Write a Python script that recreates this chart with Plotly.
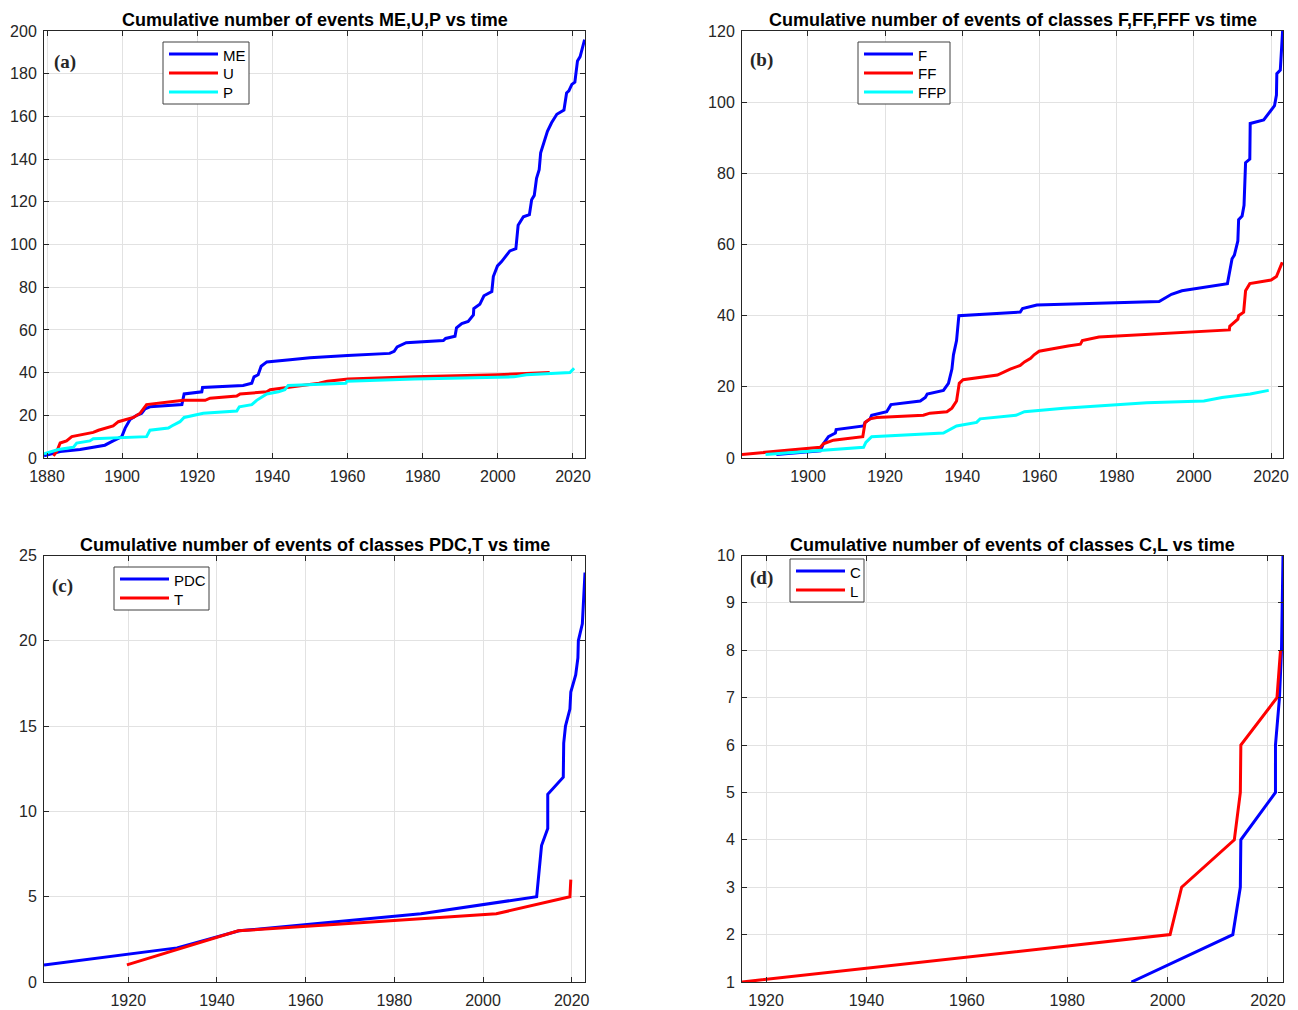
import plotly.graph_objects as go

# ---- (a) ME, U, P ----
me_year = [1879.2, 1883.5, 1888.8, 1892.0, 1895.4, 1897.6, 1899.9, 1900.8, 1902.1, 1903.9,
           1905.2, 1906.1, 1907.4, 1915.9, 1916.5, 1921.2, 1921.4, 1932.2, 1934.5, 1935.1,
           1936.2, 1937.0, 1938.5, 1944.7, 1950.0, 1960.0, 1971.2, 1972.4, 1973.2, 1975.6,
           1985.5, 1986.1, 1988.6, 1989.0, 1990.4, 1992.1, 1993.5, 1993.6, 1995.2, 1996.3,
           1998.4, 1998.8, 1999.9, 2001.0, 2003.2, 2004.8, 2005.4, 2006.8, 2008.4, 2009.0,
           2009.7, 2010.3, 2011.0, 2011.4, 2012.4, 2013.2, 2014.3, 2015.7, 2017.6, 2018.3,
           2018.9, 2019.7, 2020.5, 2021.0, 2021.2, 2021.9, 2023.1]
me_count = [1, 3, 4, 5, 6, 8, 10, 14, 18, 20,
            21, 23, 24, 25, 30, 31, 33, 34, 35, 38,
            39, 43, 45, 46, 47, 48, 49, 50, 52, 54,
            55, 56, 57, 61, 63, 64, 67, 70, 72, 76,
            78, 85, 90, 92, 97, 98, 109, 113, 114, 121,
            123, 131, 135, 143, 149, 153, 157, 161, 163, 171,
            172, 175, 176, 182, 186, 188, 196]

u_year = [1881.7, 1882.6, 1883.5, 1885.2, 1886.6, 1892.3, 1893.7, 1897.6, 1899.0, 1900.8,
          1903.0, 1904.8, 1906.5, 1916.3, 1922.1, 1923.4, 1930.5, 1931.4, 1938.5, 1939.4,
          1943.3, 1952.4, 1954.6, 1960.2, 1977.8, 2000.0, 2013.8]
u_count = [1, 3, 7, 8, 10, 12, 13, 15, 17, 18,
           19, 21, 25, 27, 27, 28, 29, 30, 31, 32,
           33, 35, 36, 37, 38, 39, 40]

p_year = [1879.2, 1883.0, 1887.0, 1887.9, 1891.4, 1892.3, 1906.5, 1907.4, 1912.3, 1913.2,
          1915.4, 1916.5, 1921.6, 1930.5, 1931.2, 1934.5, 1935.8, 1938.5, 1941.6, 1943.3,
          1944.2, 1959.5, 1959.9, 1977.8, 2004.3, 2007.6, 2019.2, 2020.3]
p_count = [2, 4, 5, 7, 8, 9, 10, 13, 14, 15,
           17, 19, 21, 22, 24, 25, 27, 30, 31, 32,
           34, 35, 36, 37, 38, 39, 40, 42]

# ---- (b) F, FF, FFP ----
f_year = [1891.8, 1903.2, 1904.0, 1905.3, 1907.1, 1907.3, 1914.4, 1914.8, 1916.1, 1916.5,
          1920.4, 1921.5, 1929.1, 1930.4, 1930.9, 1935.1, 1936.4, 1937.3, 1937.7, 1938.5,
          1939.1, 1947.2, 1955.0, 1955.6, 1959.3, 1991.0, 1994.2, 1996.9, 2008.7, 2009.9,
          2010.5, 2011.4, 2011.6, 2012.5, 2013.0, 2013.4, 2014.5, 2014.6, 2018.1, 2020.9,
          2021.4, 2021.5, 2022.4, 2023.0]
f_count = [1, 2, 4, 6, 7, 8, 9, 10, 11, 12,
           13, 15, 16, 17, 18, 19, 21, 25, 29, 33,
           40, 40.5, 41, 42, 43, 44, 46, 47, 49, 56,
           57, 61, 67, 68, 71, 83, 84, 94, 95, 99,
           102, 108, 109, 120]

ff_year = [1882.9, 1903.2, 1904.0, 1906.6, 1914.2, 1914.8, 1916.1, 1917.8, 1929.9, 1931.6,
           1936.0, 1937.3, 1938.5, 1939.2, 1940.2, 1947.2, 1949.1, 1952.4, 1955.0, 1956.1,
           1957.7, 1958.6, 1959.9, 1967.4, 1970.6, 1971.1, 1975.4, 2009.2, 2009.3, 2011.4,
           2011.6, 2012.9, 2013.4, 2014.5, 2020.0, 2021.4, 2022.9]
ff_count = [1, 3, 4, 5, 6, 10, 11, 11.4, 12, 12.6,
            13, 14, 16, 21, 22, 23, 23.3, 25, 26, 27,
            28, 29, 30, 31.5, 32, 33, 34, 36, 37, 39,
            40, 41, 47, 49, 50, 51, 55]

ffp_year = [1889.0, 1914.4, 1915.0, 1916.5, 1935.1, 1936.8, 1938.5, 1943.7, 1944.6, 1953.9,
            1956.1, 1966.3, 1987.8, 2002.6, 2007.3, 2014.6, 2019.4]
ffp_count = [1, 3, 4.4, 6, 7, 8, 9, 10, 11, 12,
             13, 14, 15.5, 16, 17, 18, 19]

# ---- (c) PDC, T ----
pdc_year = [1901.0, 1931.0, 1945.0, 1986.0, 2012.1, 2013.2, 2014.6, 2014.6, 2018.1, 2018.2,
            2018.6, 2019.6, 2019.8, 2020.9, 2021.4, 2021.5, 2022.4, 2022.6, 2023.0]
pdc_count = [1, 2, 3, 4, 5, 8, 9, 11, 12, 14,
             15, 16, 17, 18, 19, 20, 21, 22, 24]

t_year = [1919.7, 1944.8, 2003.0, 2019.6, 2019.8]
t_count = [1, 3, 4, 5, 6]

# ---- (d) C, L ----
c_year = [1992.8, 2013.0, 2014.5, 2014.6, 2021.5, 2021.5, 2022.3, 2022.7, 2022.85, 2023.0]
c_count = [1, 2, 3, 4, 5, 6, 7, 8, 9, 10]

l_year = [1915.2, 2000.5, 2002.8, 2013.3, 2014.5, 2014.6, 2021.8, 2022.5]
l_count = [1, 2, 3, 4, 5, 6, 7, 8]

BLUE, RED, CYAN = "#0000FF", "#FF0000", "#00FFFF"
W, H = 1298, 1010
SANS = "Liberation Sans, Arial, sans-serif"
SERIF = "Liberation Serif, Times New Roman, serif"
AXC = "#262626"
GRID = "#e2e2e2"


def px_x(p):
    return p / W


def px_y(p):
    return 1 - p / H


panels = [
    dict(title="Cumulative number of events ME,U,P vs time", label="(a)",
         xpx=(44, 585), ypx=(31, 458), xr=[1879.2, 2023.2], yr=[0, 200],
         xt=list(range(1880, 2021, 20)), yt=list(range(0, 201, 20)),
         series=[("ME", me_year, me_count, BLUE), ("U", u_year, u_count, RED),
                 ("P", p_year, p_count, CYAN)],
         legbox=(163, 42, 249, 104), rows=(54, 73, 92), labpos=(52, 62)),
    dict(title="Cumulative number of events of classes F,FF,FFF vs time", label="(b)",
         xpx=(742, 1283), ypx=(31, 458), xr=[1882.9, 2023.1], yr=[0, 120],
         xt=list(range(1900, 2021, 20)), yt=list(range(0, 121, 20)),
         series=[("F", f_year, f_count, BLUE), ("FF", ff_year, ff_count, RED),
                 ("FFP", ffp_year, ffp_count, CYAN)],
         legbox=(858, 42, 950, 104), rows=(54, 73, 92), labpos=(748, 60)),
    dict(title="Cumulative number of events of classes PDC,T vs time", label="(c)",
         xpx=(44, 585), ypx=(555.5, 982), xr=[1901, 2023], yr=[0, 25],
         xt=list(range(1920, 2021, 20)), yt=list(range(0, 26, 5)),
         series=[("PDC", pdc_year, pdc_count, BLUE), ("T", t_year, t_count, RED)],
         legbox=(114, 567, 209, 610), rows=(579, 598), labpos=(50, 586)),
    dict(title="Cumulative number of events of classes C,L vs time", label="(d)",
         xpx=(742, 1283), ypx=(555.5, 982), xr=[1915.2, 2023], yr=[1, 10],
         xt=list(range(1920, 2021, 20)), yt=list(range(1, 11, 1)),
         series=[("C", c_year, c_count, BLUE), ("L", l_year, l_count, RED)],
         legbox=(790, 559, 864, 602), rows=(571, 590), labpos=(748, 578)),
]

fig = go.Figure()
layout = dict(width=W, height=H, margin=dict(l=0, r=0, t=0, b=0, autoexpand=False),
              paper_bgcolor="white", plot_bgcolor="white", showlegend=False,
              font=dict(family=SANS, color=AXC), annotations=[], shapes=[])

for i, p in enumerate(panels, start=1):
    sfx = "" if i == 1 else str(i)
    xa, ya = "x" + sfx, "y" + sfx
    for name, xs, ys, col in p["series"]:
        fig.add_trace(go.Scatter(x=xs, y=ys, mode="lines", name=name,
                                 line=dict(color=col, width=3),
                                 xaxis=xa, yaxis=ya))
    common = dict(showline=True, linecolor=AXC, linewidth=1, mirror="ticks",
                  ticks="inside", ticklen=5, tickcolor=AXC, tickwidth=1,
                  showgrid=True, gridcolor=GRID, gridwidth=1, zeroline=False,
                  automargin=False,
                  tickfont=dict(family=SANS, size=16, color=AXC))
    layout["xaxis" + sfx] = dict(domain=[px_x(p["xpx"][0]), px_x(p["xpx"][1])],
                                 range=p["xr"], tickvals=p["xt"], anchor=ya,
                                 ticklabelstandoff=4, **common)
    layout["yaxis" + sfx] = dict(domain=[px_y(p["ypx"][1]), px_y(p["ypx"][0])],
                                 range=p["yr"], tickvals=p["yt"], anchor=xa,
                                 ticklabelstandoff=3, **common)

    # panel title and letter
    cx = (p["xpx"][0] + p["xpx"][1]) / 2
    layout["annotations"].append(dict(
        text=p["title"], x=px_x(cx), y=px_y(p["ypx"][0] - 11), xref="paper", yref="paper",
        xanchor="center", yanchor="middle", showarrow=False,
        font=dict(family=SANS, size=18, color="black", weight="bold")))
    layout["annotations"].append(dict(
        text=p["label"], x=px_x(p["labpos"][0]), y=px_y(p["labpos"][1]),
        xref="paper", yref="paper", xanchor="left", yanchor="middle", showarrow=False,
        font=dict(family=SERIF, size=19, color=AXC, weight="bold")))

    # legend box with line samples
    x0, y0, x1, y1 = p["legbox"]
    layout["shapes"].append(dict(type="rect", xref="paper", yref="paper", layer="above",
                                 x0=px_x(x0), x1=px_x(x1), y0=px_y(y1), y1=px_y(y0),
                                 fillcolor="white", line=dict(color="#404040", width=1)))
    for (name, _, _, col), ry in zip(p["series"], p["rows"]):
        layout["shapes"].append(dict(type="line", xref="paper", yref="paper", layer="above",
                                     x0=px_x(x0 + 6), x1=px_x(x0 + 55),
                                     y0=px_y(ry), y1=px_y(ry),
                                     line=dict(color=col, width=3)))
        layout["annotations"].append(dict(
            text=name, x=px_x(x0 + 58), y=px_y(ry + 1), xref="paper", yref="paper",
            xanchor="left", yanchor="middle", showarrow=False,
            font=dict(family=SANS, size=15, color="black")))

# white box behind the (d) label
layout["shapes"].append(dict(type="rect", xref="paper", yref="paper", layer="between",
                             x0=px_x(744), x1=px_x(768), y0=px_y(612), y1=px_y(557),
                             fillcolor="white", line=dict(width=0)))

fig.update_layout(**layout)
fig.write_html("out.html")
